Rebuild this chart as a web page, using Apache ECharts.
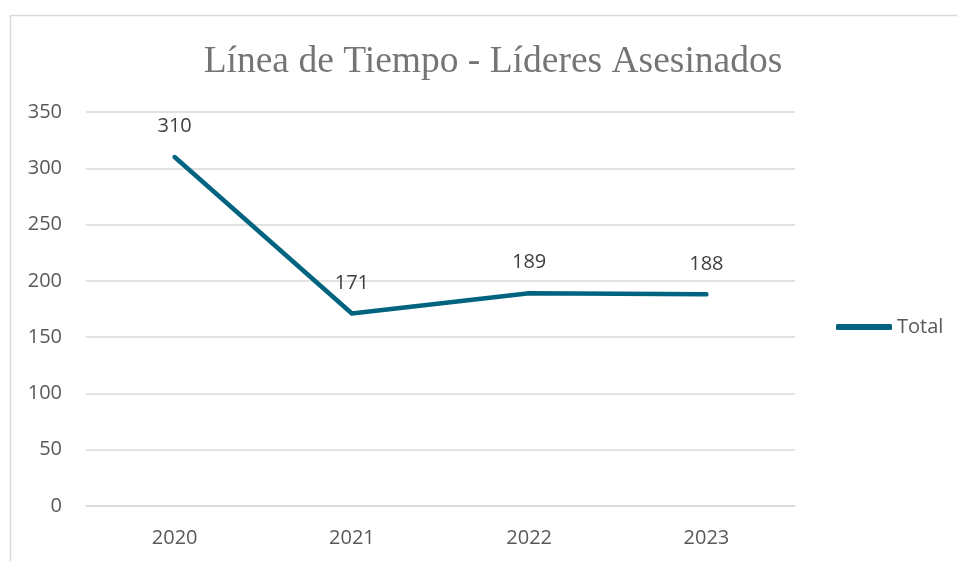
<!DOCTYPE html>
<html><head><meta charset="utf-8">
<script src="https://cdn.jsdelivr.net/npm/echarts@6/dist/echarts.min.js"></script>
<style>html,body{margin:0;padding:0;background:#fff}#c{width:957px;height:561px}</style>
</head><body><div id="c"></div>
<script>
const categories = ['2020', '2021', '2022', '2023'];
const totalValues = [310, 171, 189, 188];
const yTicks = { min: 0, max: 350, interval: 50 };

const chart = echarts.init(document.getElementById('c'));
const labelFont = '"Open Sans", "Liberation Sans", sans-serif';
chart.setOption({
  animation: false,
  graphic: [{
    type: 'rect', shape: { x: 10.5, y: 15.5, width: 960, height: 560 },
    style: { fill: 'none', stroke: '#d9d9d9', lineWidth: 1.5 }, silent: true
  }],
  title: {
    text: 'Línea de Tiempo - Líderes Asesinados',
    left: 488, top: 38, textAlign: 'center',
    textStyle: { fontFamily: '"Liberation Serif", "DejaVu Serif", serif', fontSize: 37.5, fontWeight: 'normal', color: '#757575' }
  },
  legend: {
    data: ['Total'], left: 831, top: 312, orient: 'vertical',
    itemWidth: 56, itemHeight: 6, itemGap: 4,
    icon: 'roundRect',
    textStyle: { fontFamily: labelFont, fontSize: 20, color: '#595959' }
  },
  grid: { left: 86, right: 162, top: 112, bottom: 55, containLabel: false },
  xAxis: {
    type: 'category', data: categories, boundaryGap: true,
    axisLine: { show: true, lineStyle: { color: '#d9d9d9', width: 1.5 } },
    axisTick: { show: false },
    axisLabel: { fontFamily: labelFont, fontSize: 20, color: '#595959', margin: 22 }
  },
  yAxis: {
    type: 'value', min: yTicks.min, max: yTicks.max, interval: yTicks.interval,
    axisLine: { show: false }, axisTick: { show: false },
    splitLine: { lineStyle: { color: '#d9d9d9', width: 1.5 } },
    axisLabel: { fontFamily: labelFont, fontSize: 20, color: '#595959', margin: 24 }
  },
  series: [{
    name: 'Total', type: 'line', data: totalValues,
    symbol: 'circle', symbolSize: 1, showSymbol: true,
    lineStyle: { color: '#006480', width: 4.5, cap: 'round', join: 'round' },
    itemStyle: { color: '#006480' },
    label: { show: true, position: 'top', distance: 20, fontFamily: labelFont, fontSize: 20, color: '#404040' }
  }]
});
</script></body></html>
